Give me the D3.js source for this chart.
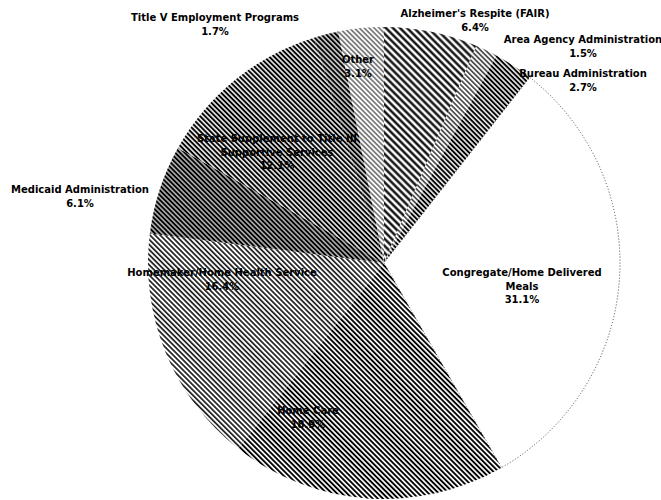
<!DOCTYPE html>
<html>
<head>
<meta charset="utf-8">
<script src="https://cdn.jsdelivr.net/npm/d3@7"></script>
<style>
body { margin: 0; background: #fff; }
text { font-family: "DejaVu Sans", Verdana, sans-serif; font-weight: bold; font-size: 10px; fill: #000; }
</style>
</head>
<body>
<div id="chart"></div>
<script>
var width = 661;
var height = 500;

// slice names, clockwise from 12 o'clock
var categories = [
  "Alzheimer's Respite (FAIR)",
  "Area Agency Administration",
  "Bureau Administration",
  "Congregate/Home Delivered Meals",
  "Home Care",
  "Homemaker/Home Health Service",
  "Medicaid Administration",
  "State Supplement to Title III Supportive Services",
  "Title V Employment Programs",
  "Other"
];
var values = [6.4, 1.5, 2.7, 31.1, 18.9, 16.4, 6.1, 12.1, 1.7, 3.1];

// label lines (split by hand like the original)
var labelLines = [
  ["Alzheimer's Respite (FAIR)"],
  ["Area Agency Administration"],
  ["Bureau Administration"],
  ["Congregate/Home Delivered", "Meals"],
  ["Home Care"],
  ["Homemaker/Home Health Service"],
  ["Medicaid Administration"],
  ["State Supplement to Title III", "Supportive Services"],
  ["Title V Employment Programs"],
  ["Other"]
];

// where each label sits (first line centre)
var labelPos = [
  [475, 17], [583, 43], [583, 77], [522, 276], [308, 414],
  [222, 276], [80, 193], [277, 142], [215, 21], [358, 63]
];

// hatch look per slice: [spacing, line width]
var hatch = [
  [5, 2.3], [3.5, 1.2], [3.5, 2.0], null, [3.6, 1.9],
  [3.6, 1.5], [3.4, 2.3], [3.5, 2.0], [3.5, 2.2], [3.5, 0.9]
];

var svg = d3.select("#chart").append("svg")
  .attr("width", width)
  .attr("height", height);

var defs = svg.append("defs");
hatch.forEach(function(h, i) {
  if (!h) return;
  var p = defs.append("pattern")
    .attr("id", "hatch" + i)
    .attr("patternUnits", "userSpaceOnUse")
    .attr("width", h[0])
    .attr("height", h[0])
    .attr("patternTransform", "rotate(-45)");
  p.append("rect").attr("width", h[0]).attr("height", h[0]).attr("fill", "#fff");
  p.append("line")
    .attr("x1", h[0] / 2).attr("y1", 0)
    .attr("x2", h[0] / 2).attr("y2", h[0])
    .attr("stroke", "#000")
    .attr("stroke-width", h[1]);
});

var cx = 384, cy = 263, radius = 236;

var pie = d3.pie().sort(null).value(function(d) { return d; });
var arc = d3.arc().innerRadius(0).outerRadius(radius);

var g = svg.append("g").attr("transform", "translate(" + cx + "," + cy + ")");

g.selectAll("path.slice")
  .data(pie(values))
  .enter().append("path")
  .attr("class", "slice")
  .attr("d", arc)
  .attr("fill", function(d, i) { return hatch[i] ? "url(#hatch" + i + ")" : "#fff"; })
  .attr("stroke", function(d, i) { return hatch[i] ? "none" : "#444"; })
  .attr("stroke-width", 1)
  .attr("stroke-dasharray", "1,2");

// labels
var lineH = 13.5;
var labels = svg.selectAll("text.lbl")
  .data(categories)
  .enter().append("text")
  .attr("class", "lbl")
  .attr("text-anchor", "middle")
  .attr("x", function(d, i) { return labelPos[i][0]; })
  .attr("y", function(d, i) { return labelPos[i][1]; });

labels.each(function(d, i) {
  var t = d3.select(this);
  var lines = labelLines[i].concat([values[i].toFixed(1) + "%"]);
  lines.forEach(function(l, j) {
    t.append("tspan")
      .attr("x", labelPos[i][0])
      .attr("dy", j === 0 ? 0 : lineH)
      .text(l);
  });
});
</script>
</body>
</html>
